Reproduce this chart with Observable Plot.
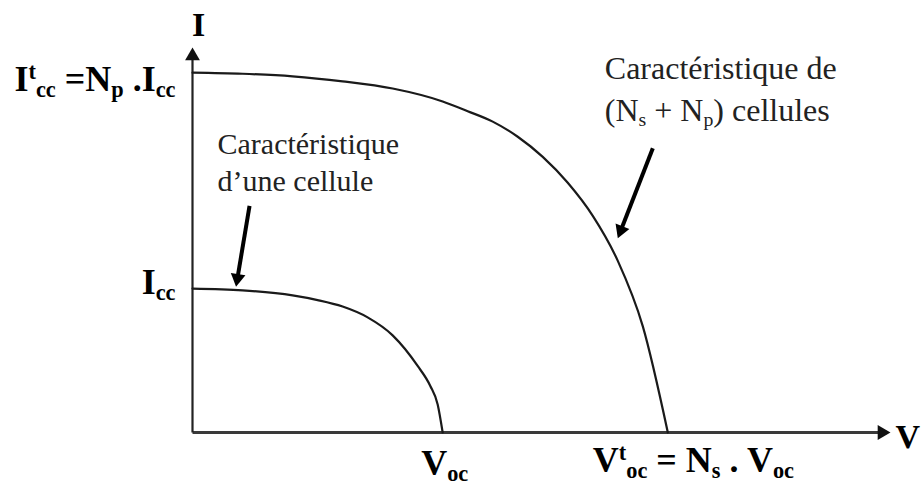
<!DOCTYPE html>
<html>
<head>
<meta charset="utf-8">
<script src="https://cdn.jsdelivr.net/npm/d3@7"></script>
<script src="https://cdn.jsdelivr.net/npm/@observablehq/plot@0.6"></script>
<style>
  html, body { margin: 0; padding: 0; background: #fff; }
  #chart svg { display: block; }
  #chart svg text, #chart svg tspan { font-family: "Liberation Serif", "Tinos", "DejaVu Serif", serif !important; }
</style>
</head>
<body>
<div id="chart"></div>
<script>
// I–V characteristic of one cell (arbitrary units)
const cellV = [0, 2, 4, 5, 6, 7, 8, 9, 9.5, 9.8, 10];
const cellI = [4, 3.95, 3.81, 3.68, 3.5, 3.2, 2.7, 1.85, 1.3, 0.78, 0];

// I–V characteristic of the Ns x Np module
const moduleV = [0, 2, 4, 6, 8, 10, 11, 12, 13, 14, 15, 16, 17, 18, 19];
const moduleI = [10, 9.97, 9.9, 9.76, 9.56, 9.2, 8.93, 8.64, 8.22, 7.66, 6.94, 6.02, 4.77, 2.95, 0];

// Key points marked on the axes
const Icc = 4, ItCC = 10, Voc = 10, VtOC = 19;
const yTickLabels = ["I_{cc}", "I^{t}_{cc} =N_{p} .I_{cc}"];
const xTickLabels = ["V_{oc}", "V^{t}_{oc} = N_{s} . V_{oc}"];
const axisTitles = ["V", "I"];

// Callouts
const moduleNote = ["Caractéristique de", "(N_{s} + N_{p}) cellules"];
const cellNote = ["Caractéristique", "d’une cellule"];

const width = 922, height = 486;
const margin = {top: 47, right: 32, bottom: 54, left: 192};
const xMax = 27.9, yMax = 10.7;
const kx = (width - margin.left - margin.right) / xMax;   // px per unit of V
const ky = (height - margin.top - margin.bottom) / yMax;  // px per unit of I

const serif = "'Liberation Serif', Tinos, 'DejaVu Serif', serif";
const ink = "#1a1a1a";

const cell = cellV.map((v, i) => ({V: v, I: cellI[i]}));
const module = moduleV.map((v, i) => ({V: v, I: moduleI[i]}));

// Split an arrow into a shaft and a filled triangular head
function arrow(tail, tip, r) {
  const sx = (tip[0] - tail[0]) * kx, sy = -(tip[1] - tail[1]) * ky;
  const len = Math.hypot(sx, sy), ux = sx / len, uy = sy / len;
  const back = 2 * Math.sqrt(Math.PI * r * r / (3 * Math.sqrt(3)));
  const cx = tip[0] - ux * back / kx, cy = tip[1] + uy * back / ky;
  return {
    shaft: {x1: tail[0], y1: tail[1], x2: cx, y2: cy},
    head: {x: cx, y: cy, rotate: Math.atan2(ux, -uy) * 180 / Math.PI}
  };
}

const xAxis = arrow([0, 0], [xMax, 0], 5.5);
const yAxis = arrow([0, 0], [0, yMax], 5.5);
const cellArrow = arrow([2.28, 6.3], [1.74, 4.05], 5.5);
const moduleArrow = arrow([18.4, 7.9], [17.0, 5.4], 5.5);

const bold = {fontFamily: serif, fontWeight: "bold", fill: "#000", lineAnchor: "bottom"};
const note = {fontFamily: serif, fill: "#222", lineAnchor: "bottom", textAnchor: "start"};

const plot = Plot.plot({
  width, height,
  marginTop: margin.top, marginRight: margin.right,
  marginBottom: margin.bottom, marginLeft: margin.left,
  x: {domain: [0, xMax], axis: null},
  y: {domain: [0, yMax], axis: null},
  style: {fontFamily: serif, background: "#fff", overflow: "visible"},
  marks: [
    // axes
    Plot.link([xAxis.shaft], {x1: "x1", y1: "y1", x2: "x2", y2: "y2", stroke: "#3a3a3a", strokeWidth: 3}),
    Plot.link([yAxis.shaft], {x1: "x1", y1: "y1", x2: "x2", y2: "y2", stroke: "#222", strokeWidth: 2.2}),
    Plot.dot([xAxis.head, yAxis.head], {x: "x", y: "y", rotate: "rotate", symbol: "triangle", r: 5.5, fill: "#111", stroke: "none"}),

    // characteristics
    Plot.line(module, {x: "V", y: "I", curve: "monotone-x", stroke: ink, strokeWidth: 2.2}),
    Plot.line(cell, {x: "V", y: "I", curve: "monotone-x", stroke: ink, strokeWidth: 2.2}),

    // callout arrows
    Plot.link([cellArrow.shaft, moduleArrow.shaft], {x1: "x1", y1: "y1", x2: "x2", y2: "y2", stroke: "#000", strokeWidth: 4}),
    Plot.dot([cellArrow.head, moduleArrow.head], {x: "x", y: "y", rotate: "rotate", symbol: "triangle", r: 5.5, fill: "#000", stroke: "none"}),

    // axis titles
    Plot.text([axisTitles[0]], {...bold, x: xMax, y: 0, text: d => d, textAnchor: "start", dx: 5, dy: 15, fontSize: 34}),
    Plot.text([axisTitles[1]], {...bold, x: 0, y: yMax, text: d => d, textAnchor: "middle", dx: 6, dy: -12, fontSize: 34}),

    // marked values on the I axis
    Plot.text([Icc], {...bold, x: 0, y: d => d, text: [yTickLabels[0]], textAnchor: "end", dx: -17, dy: 5, fontSize: 36}),
    Plot.text([ItCC], {...bold, x: 0, y: d => d, text: [yTickLabels[1]], textAnchor: "end", dx: -17, dy: 18, fontSize: 36}),

    // marked values on the V axis
    Plot.text([Voc], {...bold, x: d => d, y: 0, text: [xTickLabels[0]], textAnchor: "middle", dx: 2, dy: 42, fontSize: 36}),
    Plot.text([VtOC], {...bold, x: d => d, y: 0, text: [xTickLabels[1]], textAnchor: "start", dx: -75, dy: 39, fontSize: 36}),

    // callout texts
    Plot.text([moduleNote[0]], {...note, x: 16.48, y: 8.67, text: d => d, dy: -42, fontSize: 32}),
    Plot.text([moduleNote[1]], {...note, x: 16.48, y: 8.67, text: d => d, fontSize: 32}),
    Plot.text([cellNote[0]], {...note, x: 1.0, y: 6.72, text: d => d, dy: -37, fontSize: 30}),
    Plot.text([cellNote[1]], {...note, x: 1.0, y: 6.72, text: d => d, fontSize: 30})
  ]
});

document.getElementById("chart").append(plot);

// Turn _{..} and ^{..} markup into subscript / superscript tspans
d3.select(plot).selectAll("text, tspan").each(function() {
  if (this.childNodes.length !== 1 || this.firstChild.nodeType !== 3) return;
  const src = this.textContent;
  if (!/[_^]\{/.test(src)) return;
  const base = parseFloat(getComputedStyle(this).fontSize);
  const small = base * 0.62;
  const el = d3.select(this);
  el.text(null);
  let shift = 0;
  const re = /([_^])\{([^}]*)\}|([^_^]+)/g;
  let m;
  while ((m = re.exec(src))) {
    let target, size, str;
    if (m[3] !== undefined) { target = 0; size = base; str = m[3]; }
    else if (m[1] === "_") { target = base * 0.18; size = small; str = m[2]; }
    else { target = -base * 0.32; size = small; str = m[2]; }
    el.append("tspan")
      .attr("font-size", size)
      .attr("dy", target - shift)
      .text(str);
    shift = target;
  }
});
</script>
</body>
</html>
